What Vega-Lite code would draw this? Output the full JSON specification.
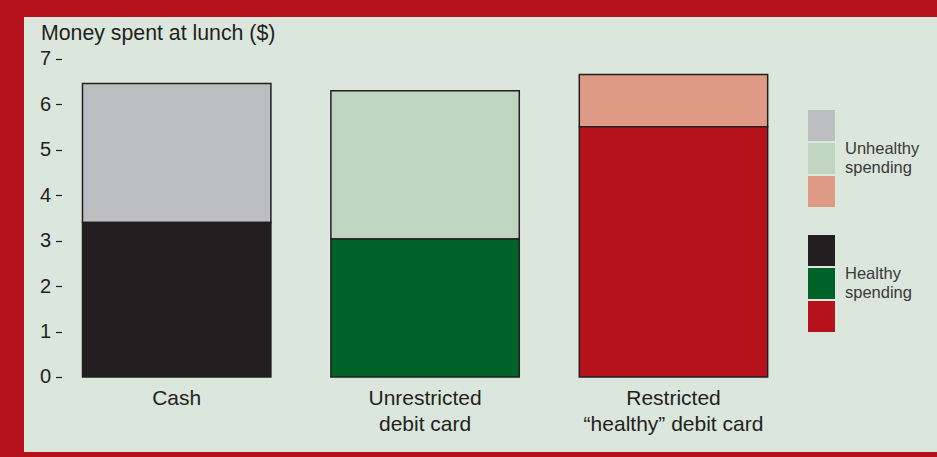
{
  "$schema": "https://vega.github.io/schema/vega-lite/v6.json",
  "autosize": {"type": "none"},
  "width": 913,
  "height": 435,
  "padding": {"left": 24, "top": 17, "right": 0, "bottom": 5},
  "background": "#b5121b",
  "config": {
    "view": {"fill": "#dbe6dc", "stroke": null},
    "font": "Liberation Sans"
  },
  "data": {
    "values": [
      {"method": "Cash", "type": "Healthy", "amount": 3.40},
      {"method": "Cash", "type": "Unhealthy", "amount": 3.06},
      {"method": "Unrestricted debit card", "type": "Healthy", "amount": 3.04},
      {"method": "Unrestricted debit card", "type": "Unhealthy", "amount": 3.26},
      {"method": "Restricted “healthy” debit card", "type": "Healthy", "amount": 5.51},
      {"method": "Restricted “healthy” debit card", "type": "Unhealthy", "amount": 1.15}
    ]
  },
  "transform": [
    {"stack": "amount", "groupby": ["method"], "sort": [{"field": "type", "order": "ascending"}], "as": ["lo", "hi"]}
  ],
  "encoding": {
    "x": {
      "field": "method",
      "type": "nominal",
      "scale": {
        "domain": ["Cash", "Unrestricted debit card", "Restricted “healthy” debit card"],
        "paddingInner": 0.2416,
        "paddingOuter": 0.4586,
        "align": 0.2568
      },
      "axis": {
        "orient": "bottom",
        "offset": -75,
        "domain": false,
        "ticks": false,
        "tickSize": 0,
        "labelPadding": 27,
        "labelBaseline": "alphabetic",
        "labelFontSize": 21,
        "labelColor": "#231f20",
        "labelLineHeight": 26,
        "labelAngle": 0,
        "title": null,
        "labelExpr": "datum.value == 'Cash' ? 'Cash' : datum.value == 'Unrestricted debit card' ? ['Unrestricted', 'debit card'] : ['Restricted', '“healthy” debit card']"
      }
    },
    "y": {
      "field": "lo",
      "type": "quantitative",
      "scale": {"domain": [-1.651, 7.924], "nice": false, "zero": false},
      "axis": {
        "offset": -37.5,
        "values": [0, 1, 2, 3, 4, 5, 6, 7],
        "domain": false,
        "grid": false,
        "tickSize": 6,
        "tickColor": "#231f20",
        "tickWidth": 1.2,
        "labelPadding": 5,
        "labelFontSize": 20,
        "labelColor": "#231f20",
        "title": "Money spent at lunch ($)",
        "titleAngle": 0,
        "titleAlign": "left",
        "titleBaseline": "alphabetic",
        "titleX": -21,
        "titleY": 22,
        "titleFontSize": 21.3,
        "titleFontWeight": "normal",
        "titleColor": "#231f20"
      }
    },
    "y2": {"field": "hi"}
  },
  "layer": [
    {
      "transform": [{"filter": "datum.type == 'Unhealthy'"}],
      "mark": {"type": "bar", "stroke": "#231f20", "strokeWidth": 1.5},
      "encoding": {
        "color": {
          "field": "method",
          "type": "nominal",
          "scale": {
            "domain": ["Cash", "Unrestricted debit card", "Restricted “healthy” debit card"],
            "range": ["#bcbec0", "#c0d5c0", "#de9a85"]
          },
          "legend": {
            "orient": "none",
            "legendX": 782,
            "legendY": 93,
            "title": ["Unhealthy", "spending"],
            "titleOrient": "right",
            "titleAnchor": "middle",
            "titleBaseline": "middle",
            "titleFontSize": 16.5,
            "titleFontWeight": "normal",
            "titleColor": "#3a3a3a",
            "titleLineHeight": 19,
            "titlePadding": 8,
            "padding": 0,
            "rowPadding": 2,
            "symbolType": "M-0.871,-1H0.871V1H-0.871Z",
            "symbolSize": 961,
            "symbolStrokeWidth": 0,
            "symbolOpacity": 1,
            "labelOffset": 0,
            "labelExpr": "''"
          }
        }
      }
    },
    {
      "transform": [{"filter": "datum.type == 'Healthy'"}],
      "mark": {"type": "bar", "stroke": "#231f20", "strokeWidth": 1.5},
      "encoding": {
        "color": {
          "field": "method",
          "type": "nominal",
          "scale": {
            "domain": ["Cash", "Unrestricted debit card", "Restricted “healthy” debit card"],
            "range": ["#231f20", "#006228", "#b5121b"]
          },
          "legend": {
            "orient": "none",
            "legendX": 782,
            "legendY": 218,
            "title": ["Healthy", "spending"],
            "titleOrient": "right",
            "titleAnchor": "middle",
            "titleBaseline": "middle",
            "titleFontSize": 16.5,
            "titleFontWeight": "normal",
            "titleColor": "#3a3a3a",
            "titleLineHeight": 19,
            "titlePadding": 8,
            "padding": 0,
            "rowPadding": 2,
            "symbolType": "M-0.871,-1H0.871V1H-0.871Z",
            "symbolSize": 961,
            "symbolStrokeWidth": 0,
            "symbolOpacity": 1,
            "labelOffset": 0,
            "labelExpr": "''"
          }
        }
      }
    }
  ],
  "resolve": {"scale": {"color": "independent"}}
}
